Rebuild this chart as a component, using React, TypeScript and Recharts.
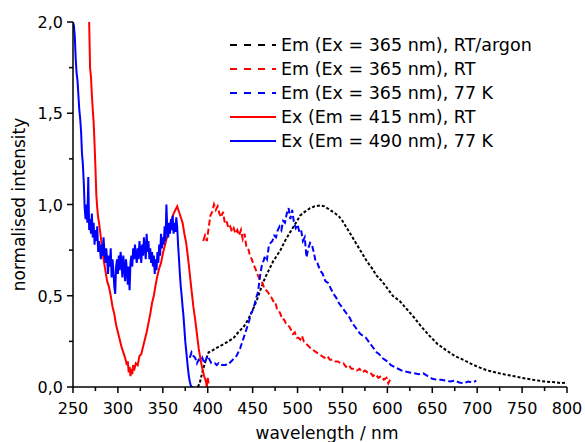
import { LineChart, Line, XAxis, YAxis, Legend, Label } from 'recharts';

const FONT = '"DejaVu Sans", Arial, sans-serif';

// axis ticks (minor ticks included, labels only on the majors)
const xTicks = [250, 275, 300, 325, 350, 375, 400, 425, 450, 475, 500, 525, 550, 575, 600, 625, 650, 675, 700, 725, 750, 775, 800];
const yTicks = [0, 0.25, 0.5, 0.75, 1, 1.25, 1.5, 1.75, 2];

// Em (Ex = 365 nm), RT/argon
const emArgonNm = [389, 391, 393, 395, 398, 401, 405, 412, 418, 423, 429, 434, 440, 445, 450, 455, 460, 464, 469, 473, 477, 481, 486, 492, 497, 503, 508, 514, 519, 525, 530, 536, 541, 546, 550, 555, 560, 566, 571, 577, 583, 588, 594, 600, 606, 614, 621, 629, 638, 647, 656, 666, 675, 685, 694, 703, 712, 722, 731, 740, 750, 759, 768, 777, 787, 793, 798, 800];
const emArgonI = [0, 0.02, 0.06, 0.1, 0.15, 0.19, 0.2, 0.22, 0.235, 0.25, 0.27, 0.3, 0.33, 0.37, 0.42, 0.48, 0.55, 0.6, 0.65, 0.69, 0.72, 0.75, 0.8, 0.85, 0.89, 0.94, 0.96, 0.98, 0.99, 0.995, 0.99, 0.97, 0.955, 0.935, 0.91, 0.87, 0.83, 0.78, 0.74, 0.69, 0.65, 0.61, 0.58, 0.54, 0.5, 0.47, 0.43, 0.385, 0.33, 0.28, 0.235, 0.2, 0.17, 0.148, 0.125, 0.106, 0.09, 0.078, 0.068, 0.06, 0.05, 0.042, 0.035, 0.029, 0.026, 0.022, 0.024, 0.02];

// Em (Ex = 365 nm), RT
const emRtNm = [395, 397, 399, 401, 403, 405, 407, 409, 411, 413, 415, 417, 419, 421, 423, 425, 427, 429, 431, 433, 435, 437, 439, 441, 443, 445, 447, 449, 451, 453, 455, 457, 459, 461, 463, 465, 467, 469, 471, 473, 475, 477, 479, 481, 483, 485, 487, 489, 491, 493, 495, 497, 499, 501, 503, 505, 507, 509, 511, 513, 515, 518, 521, 524, 527, 530, 533, 536, 539, 542, 545, 548, 551, 554, 557, 560, 563, 566, 569, 572, 575, 578, 581, 584, 587, 590, 593, 596, 599, 601, 603];
const emRtI = [0.8, 0.83, 0.8, 0.87, 0.94, 0.96, 1.0, 0.97, 0.99, 0.95, 0.93, 0.96, 0.9, 0.91, 0.87, 0.88, 0.85, 0.87, 0.84, 0.86, 0.83, 0.86, 0.81, 0.84, 0.77, 0.76, 0.72, 0.7, 0.67, 0.65, 0.62, 0.6, 0.58, 0.57, 0.54, 0.53, 0.52, 0.5, 0.49, 0.47, 0.47, 0.43, 0.42, 0.4, 0.37, 0.37, 0.35, 0.34, 0.33, 0.31, 0.29, 0.3, 0.27, 0.27, 0.26, 0.28, 0.25, 0.24, 0.23, 0.22, 0.21, 0.2, 0.19, 0.18, 0.17, 0.16, 0.17, 0.15, 0.15, 0.14, 0.14, 0.13, 0.13, 0.11, 0.12, 0.1, 0.1, 0.09, 0.1, 0.08, 0.09, 0.08, 0.08, 0.06, 0.07, 0.05, 0.06, 0.04, 0.05, 0.02, 0.04];

// Em (Ex = 365 nm), 77 K
const em77Nm = [380, 382, 384, 386, 388, 390, 392, 394, 396, 398, 400, 402, 404, 406, 408, 410, 412, 414, 416, 418, 420, 422, 424, 426, 428, 430, 432, 434, 436, 438, 440, 442, 444, 446, 448, 450, 452, 454, 456, 458, 460, 462, 464, 466, 468, 470, 472, 474, 476, 478, 480, 482, 484, 486, 488, 490, 492, 494, 496, 498, 500, 502, 504, 506, 508, 510, 512, 514, 516, 518, 520, 522, 525, 528, 531, 534, 537, 540, 543, 546, 549, 552, 555, 558, 561, 564, 567, 570, 573, 576, 579, 582, 585, 588, 591, 594, 597, 600, 604, 608, 612, 616, 620, 625, 630, 635, 640, 645, 650, 655, 660, 665, 670, 675, 680, 685, 690, 695, 699];
const em77I = [0.16, 0.19, 0.17, 0.16, 0.13, 0.15, 0.14, 0.16, 0.13, 0.15, 0.17, 0.15, 0.13, 0.13, 0.13, 0.12, 0.13, 0.12, 0.12, 0.12, 0.12, 0.13, 0.13, 0.14, 0.15, 0.16, 0.17, 0.19, 0.21, 0.24, 0.27, 0.3, 0.33, 0.36, 0.4, 0.42, 0.45, 0.49, 0.52, 0.6, 0.66, 0.69, 0.72, 0.7, 0.77, 0.79, 0.8, 0.83, 0.82, 0.86, 0.88, 0.86, 0.91, 0.9, 0.95, 0.98, 0.92, 0.97, 0.9, 0.87, 0.89, 0.85, 0.86, 0.8, 0.82, 0.71, 0.76, 0.79, 0.78, 0.74, 0.69, 0.68, 0.64, 0.62, 0.58, 0.57, 0.54, 0.51, 0.49, 0.46, 0.44, 0.42, 0.4, 0.38, 0.35, 0.33, 0.31, 0.29, 0.28, 0.27, 0.25, 0.23, 0.21, 0.19, 0.18, 0.16, 0.15, 0.14, 0.12, 0.11, 0.1, 0.09, 0.085, 0.08, 0.075, 0.07, 0.075, 0.06, 0.045, 0.04, 0.04, 0.035, 0.03, 0.035, 0.025, 0.02, 0.03, 0.025, 0.035];

// Ex (Em = 415 nm), RT
const exRtNm = [268, 269, 270, 271, 272, 273, 274, 275, 276, 277, 278, 279, 280, 282, 284, 286, 288, 290, 292, 294, 296, 298, 300, 302, 304, 306, 308, 310, 311, 312, 313, 314, 315, 316, 317, 318, 320, 322, 324, 326, 328, 330, 332, 334, 336, 338, 340, 342, 344, 346, 348, 350, 352, 354, 356, 358, 360, 362, 364, 366, 368, 370, 372, 374, 376, 378, 380, 382, 384, 386, 388, 390, 392, 394, 396, 398, 399, 400, 401];
const exRtI = [2.0, 1.75, 1.7, 1.6, 1.52, 1.45, 1.33, 1.2, 1.05, 0.98, 0.93, 0.9, 0.86, 0.78, 0.7, 0.64, 0.58, 0.55, 0.5, 0.44, 0.4, 0.34, 0.3, 0.26, 0.22, 0.19, 0.16, 0.12, 0.14, 0.08, 0.11, 0.06, 0.1, 0.07, 0.12, 0.09, 0.13, 0.12, 0.17, 0.18, 0.22, 0.26, 0.3, 0.35, 0.4, 0.46, 0.5, 0.56, 0.61, 0.65, 0.68, 0.73, 0.77, 0.81, 0.84, 0.88, 0.92, 0.95, 0.97, 0.99, 0.96, 0.93, 0.9, 0.84, 0.79, 0.71, 0.62, 0.53, 0.44, 0.37, 0.29, 0.21, 0.15, 0.1, 0.06, 0.03, 0.0, 0.05, 0.02];

// Ex (Em = 490 nm), 77 K
const ex77Nm = [250, 251, 252, 253, 254, 255, 256, 257, 258, 259, 260, 261, 262, 263, 264, 265, 266, 267, 268, 269, 270, 271, 272, 273, 274, 275, 276, 277, 278, 279, 280, 281, 282, 283, 284, 285, 286, 287, 288, 289, 290, 291, 292, 293, 294, 295, 296, 297, 298, 299, 300, 301, 302, 303, 304, 305, 306, 307, 308, 309, 310, 311, 312, 313, 314, 315, 316, 317, 318, 319, 320, 321, 322, 323, 324, 325, 326, 327, 328, 329, 330, 331, 332, 333, 334, 335, 336, 337, 338, 339, 340, 341, 342, 343, 344, 345, 346, 347, 348, 349, 350, 351, 352, 353, 354, 355, 356, 357, 358, 359, 360, 361, 362, 363, 364, 365, 366, 367, 368, 369, 370, 371, 372, 373, 374, 375, 376, 377, 378, 379, 380, 381, 382, 384];
const ex77I = [2.0, 1.98, 1.92, 1.8, 1.72, 1.68, 1.6, 1.52, 1.47, 1.4, 1.28, 1.22, 1.12, 0.98, 0.92, 1.0, 0.9, 1.15, 0.86, 0.92, 0.84, 0.95, 0.82, 0.9, 0.78, 0.86, 0.8, 0.88, 0.74, 0.8, 0.76, 0.7, 0.78, 0.72, 0.82, 0.74, 0.68, 0.76, 0.7, 0.62, 0.72, 0.66, 0.76, 0.6, 0.7, 0.64, 0.55, 0.51, 0.66, 0.7, 0.62, 0.72, 0.64, 0.74, 0.68, 0.6, 0.72, 0.66, 0.58, 0.7, 0.64, 0.56, 0.66, 0.53, 0.68, 0.72, 0.66, 0.76, 0.7, 0.78, 0.72, 0.68, 0.76, 0.7, 0.8, 0.74, 0.68, 0.78, 0.72, 0.82, 0.76, 0.7, 0.84, 0.74, 0.8, 0.7, 0.76, 0.68, 0.74, 0.66, 0.72, 0.62, 0.7, 0.64, 0.74, 0.68, 0.78, 0.72, 0.84, 0.76, 0.82, 0.78, 0.88, 0.8, 1.0, 0.86, 0.82, 0.9, 0.84, 0.92, 0.86, 0.94, 0.84, 0.9, 0.85, 0.93, 0.88, 0.78, 0.7, 0.62, 0.55, 0.5, 0.44, 0.39, 0.32, 0.25, 0.2, 0.15, 0.1, 0.06, 0.03, 0.01, 0.0, 0.0];

const toPoints = (xs: number[], ys: number[]) => xs.map((x, i) => ({ x, y: ys[i] }));

const series = [
  { name: 'Em (Ex = 365 nm), RT/argon', data: toPoints(emArgonNm, emArgonI), color: '#000000', dash: '3 2', legendDash: '7 7' },
  { name: 'Em (Ex = 365 nm), RT', data: toPoints(emRtNm, emRtI), color: '#ff0000', dash: '6 3', legendDash: '7 7' },
  { name: 'Em (Ex = 365 nm), 77 K', data: toPoints(em77Nm, em77I), color: '#0000ff', dash: '6 3', legendDash: '7 7' },
  { name: 'Ex (Em = 415 nm), RT', data: toPoints(exRtNm, exRtI), color: '#ff0000', dash: undefined, legendDash: undefined },
  { name: 'Ex (Em = 490 nm), 77 K', data: toPoints(ex77Nm, ex77I), color: '#0000ff', dash: undefined, legendDash: undefined },
];

const XTick = (props: any) => {
  const { x, y, payload } = props;
  const v = payload.value;
  const major = v % 50 === 0;
  return (
    <g>
      <line x1={x} x2={x} y1={y} y2={y + (major ? 6 : 4)} stroke="#000" strokeWidth={1.5} />
      {major && (
        <text x={x} y={y + 27} textAnchor="middle" fontSize={16} fontFamily={FONT} fill="#000">
          {v}
        </text>
      )}
    </g>
  );
};

const YTick = (props: any) => {
  const { x, y, payload } = props;
  const v = payload.value;
  const major = Math.abs(v * 2 - Math.round(v * 2)) < 1e-6;
  return (
    <g>
      <line x1={x} x2={x - (major ? 6 : 4)} y1={y} y2={y} stroke="#000" strokeWidth={1.5} />
      {major && (
        <text x={x - 10} y={y + 6} textAnchor="end" fontSize={16} fontFamily={FONT} fill="#000">
          {v.toFixed(1).replace('.', ',')}
        </text>
      )}
    </g>
  );
};

const LegendBox = () => (
  <svg width={340} height={122} style={{ display: 'block' }}>
    {series.map((s, i) => {
      const cy = 12 + i * 24;
      return (
        <g key={s.name}>
          <line x1={0} x2={46} y1={cy} y2={cy} stroke={s.color} strokeWidth={2} strokeDasharray={s.legendDash} />
          <text x={51} y={cy + 6} fontSize={17.5} fontFamily={FONT} fill="#000">
            {s.name}
          </text>
        </g>
      );
    })}
  </svg>
);

export default function App() {
  return (
    <div style={{ position: 'absolute', left: 0, top: 0, background: '#fff' }}>
      <LineChart width={585} height={442} margin={{ top: 22, right: 18, bottom: 0, left: 0 }}>
        <XAxis
          type="number"
          dataKey="x"
          domain={[250, 800]}
          ticks={xTicks}
          interval={0}
          allowDataOverflow
          height={55}
          tickSize={0}
          tickMargin={0}
          tickLine={false}
          tick={<XTick />}
          axisLine={{ stroke: '#000', strokeWidth: 1.5 }}
        >
          <Label
            content={(p: any) => {
              const vb = p.viewBox || { x: 73, y: 387, width: 494, height: 55 };
              return (
                <text x={vb.x + vb.width / 2 + 7} y={vb.y + vb.height - 3} textAnchor="middle" fontSize={17} fontFamily={FONT} fill="#000">
                  wavelength / nm
                </text>
              );
            }}
          />
        </XAxis>
        <YAxis
          type="number"
          dataKey="y"
          domain={[0, 2]}
          ticks={yTicks}
          interval={0}
          allowDataOverflow
          width={73}
          tickSize={0}
          tickMargin={0}
          tickLine={false}
          tick={<YTick />}
          axisLine={{ stroke: '#000', strokeWidth: 1.5 }}
        >
          <Label
            content={(p: any) => {
              const vb = p.viewBox || { x: 0, y: 22, width: 73, height: 365 };
              const cx = 25;
              const cy = vb.y + vb.height / 2;
              return (
                <text x={cx} y={cy} transform={`rotate(-90 ${cx} ${cy})`} textAnchor="middle" fontSize={17} fontFamily={FONT} fill="#000">
                  normalised intensity
                </text>
              );
            }}
          />
        </YAxis>
        <Legend
          layout="horizontal"
          verticalAlign="middle"
          align="center"
          wrapperStyle={{ left: 230, top: 33, width: 340, height: 122 }}
          content={() => <LegendBox />}
        />
        {series.map((s) => (
          <Line
            key={s.name}
            name={s.name}
            data={s.data}
            dataKey="y"
            type="linear"
            stroke={s.color}
            strokeWidth={2}
            strokeDasharray={s.dash}
            dot={false}
            activeDot={false}
            isAnimationActive={false}
          />
        ))}
      </LineChart>
    </div>
  );
}
